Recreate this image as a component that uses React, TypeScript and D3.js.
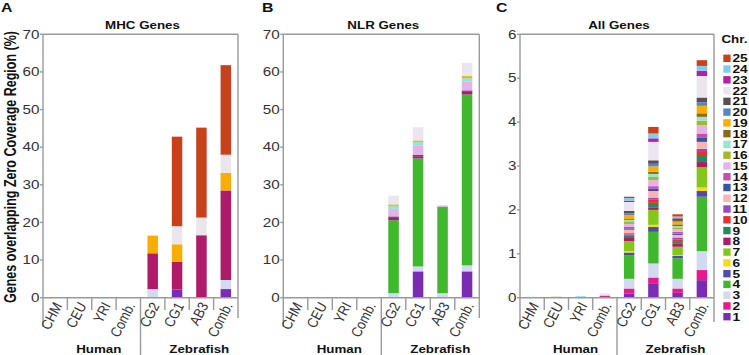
import React from 'react';
import * as d3 from 'd3';

// horizontal stretch of the whole figure
const S = 1.27;
const X = (screen: number) => screen / S;

const categories = ['CHM', 'CEU', 'YRI', 'Comb.', 'CG2', 'CG1', 'AB3', 'Comb.'];
const groupNames = ['Human', 'Zebrafish'];
const groupRanges: [number, number][] = [[0, 4], [4, 8]];
const chrLabels = ['1','2','3','4','5','6','7','8','9','10','11','12','13','14','15','16','17','18','19','20','21','22','23','24','25'];
const chrColors = [
  '#7a2db3', '#e8198b', '#d2daf2', '#3fb82e', '#5249b0', '#f9da1c', '#83c71b', '#b11a68',
  '#278a5b', '#e6312e', '#9a48c2', '#f9b3b3', '#33569e', '#c54fb0', '#e6b3e8', '#a4b828',
  '#94e6cf', '#8c6a1a', '#f7ae00', '#5b84c4', '#574e57', '#ebe6ed', '#b51fa3', '#7fcdee', '#c9411b',
];

// cumulative stack tops per category: [chromosome, top]
const mhcTops: [number, number][][] = [
  [], [], [], [],
  [[3, 2.3], [8, 11.8], [19, 16.5]],
  [[1, 2.2], [8, 9.5], [19, 14.2], [22, 19.0], [25, 42.8]],
  [[8, 16.6], [22, 21.3], [25, 45.2]],
  [[1, 2.3], [3, 4.7], [8, 28.5], [19, 33.2], [22, 38.0], [25, 61.8]],
];
const nlrTops: [number, number][][] = [
  [], [], [], [],
  [[3, 1.2], [4, 20.6], [8, 21.2], [13, 21.6], [15, 23.6], [17, 24.4], [19, 24.8], [22, 27.1]],
  [[1, 7.0], [3, 8.3], [4, 37.0], [8, 37.6], [13, 38.0], [15, 40.4], [17, 41.4], [19, 41.8], [22, 45.3]],
  [[3, 1.2], [4, 24.1], [15, 24.5]],
  [[1, 7.0], [3, 8.6], [4, 54.0], [8, 54.7], [13, 55.1], [15, 57.5], [17, 58.4], [19, 58.9], [22, 62.4]],
];
const allTops: [number, number][][] = [
  [[17, 0.02]],
  [[18, 0.02]],
  [[24, 0.03]],
  [[1, 0.01], [2, 0.02], [8, 0.04], [15, 0.06], [22, 0.1]],
  [[1, 0.10], [2, 0.21], [3, 0.43], [4, 0.97], [5, 1.03], [6, 1.06], [7, 1.29], [8, 1.36], [9, 1.41], [10, 1.44], [11, 1.47], [12, 1.55], [13, 1.58], [14, 1.61], [15, 1.68], [16, 1.74], [17, 1.77], [18, 1.79], [19, 1.88], [20, 1.92], [21, 1.98], [22, 2.18], [23, 2.21], [24, 2.27], [25, 2.30]],
  [[1, 0.33], [2, 0.46], [3, 0.78], [4, 1.50], [5, 1.61], [6, 1.66], [7, 2.00], [8, 2.06], [9, 2.16], [10, 2.23], [11, 2.28], [12, 2.43], [13, 2.48], [14, 2.54], [15, 2.68], [16, 2.75], [17, 2.82], [18, 2.87], [19, 2.99], [20, 3.05], [21, 3.13], [22, 3.55], [23, 3.63], [24, 3.74], [25, 3.89]],
  [[1, 0.11], [2, 0.21], [3, 0.43], [4, 0.90], [5, 0.95], [6, 0.97], [7, 1.16], [8, 1.24], [9, 1.29], [10, 1.33], [11, 1.37], [12, 1.43], [13, 1.46], [14, 1.50], [15, 1.56], [16, 1.60], [17, 1.63], [18, 1.67], [19, 1.73], [20, 1.75], [21, 1.81], [22, 1.83], [23, 1.84], [24, 1.85], [25, 1.90]],
  [[1, 0.40], [2, 0.63], [3, 1.06], [4, 2.30], [5, 2.43], [6, 2.51], [7, 2.97], [8, 3.09], [9, 3.25], [10, 3.34], [11, 3.39], [12, 3.55], [13, 3.64], [14, 3.74], [15, 3.93], [16, 4.03], [17, 4.12], [18, 4.20], [19, 4.37], [20, 4.45], [21, 4.56], [22, 5.05], [23, 5.17], [24, 5.28], [25, 5.41]],
];
const pctTicks = [0, 10, 20, 30, 40, 50, 60, 70];
const allTicks = [0, 1, 2, 3, 4, 5, 6];

const panels = [
  { letter: 'A', title: 'MHC Genes', tops: mhcTops, ticks: pctTicks, max: 70, x0: 43, x1: 238, lx: 1, rightEnd: 318 },
  { letter: 'B', title: 'NLR Genes', tops: nlrTops, ticks: pctTicks, max: 70, x0: 283.3, x1: 479.3, lx: 262, rightEnd: 318 },
  { letter: 'C', title: 'All Genes', tops: allTops, ticks: allTicks, max: 6, x0: 520, x1: 714, lx: 496, rightEnd: 322 },
];

const Y0 = 297.7;
const YT = 34.3;
const FRAME = '#9a9a9a';
const FONT = "'Liberation Sans', Arial, Helvetica, sans-serif";

function Panel({ p }: { p: typeof panels[number] }) {
  const x = d3.scaleBand<number>().domain(d3.range(categories.length)).range([X(p.x0), X(p.x1)]);
  const y = d3.scaleLinear().domain([0, p.max]).range([Y0, YT]);
  const rows = categories.map((_, i) => {
    const r: Record<string, number> = {};
    chrLabels.forEach((k) => (r[k] = 0));
    let prev = 0;
    p.tops[i].forEach(([c, t]) => {
      r[String(c)] = t - prev;
      prev = t;
    });
    return r;
  });
  const series = d3.stack<Record<string, number>>().keys(chrLabels)(rows);
  const bw = x.bandwidth() * 0.43;
  const left = X(p.x0);
  const right = X(p.x1);
  const line = { stroke: FRAME, strokeWidth: 1.4, vectorEffect: 'non-scaling-stroke' as const };
  return (
    <g>
      <text x={X(p.lx)} y={12} fontSize={12.5} fontWeight="bold" fill="#111">{p.letter}</text>
      <text x={(left + right) / 2 + X(2)} y={29.5} fontSize={10.5} fontWeight="bold" textAnchor="middle" fill="#111">{p.title}</text>
      {series.map((s, si) => (
        <g key={si} fill={chrColors[si]}>
          {s.map((d, i) =>
            d[1] - d[0] > 0 ? (
              <rect key={i} x={(x(i) as number) + (x.bandwidth() - bw) / 2} width={bw} y={y(d[1])} height={y(d[0]) - y(d[1])} />
            ) : null
          )}
        </g>
      ))}
      {/* frame */}
      <line x1={left} x2={right} y1={YT} y2={YT} {...line} />
      <line x1={left} x2={left} y1={YT} y2={327} {...line} />
      <line x1={right} x2={right} y1={YT} y2={p.rightEnd} {...line} />
      <line x1={left} x2={right} y1={Y0} y2={Y0} {...line} />
      {d3.range(1, categories.length).map((i) => (
        <line key={i} x1={x(i) as number} x2={x(i) as number} y1={Y0} y2={i === 4 ? 355 : 310} {...line} />
      ))}
      {/* y ticks */}
      {p.ticks.map((t) => (
        <g key={t}>
          <line x1={left - X(3)} x2={left} y1={y(t)} y2={y(t)} {...line} />
          <text x={left - X(3.5)} y={y(t) + 4.3} fontSize={12} textAnchor="end" fill="#333">{t}</text>
        </g>
      ))}
      {/* category labels */}
      {categories.map((c, i) => (
        <text key={i} transform={`translate(${(x(i) as number) + x.bandwidth() / 2 + X(7.5)},305) rotate(-68)`} fontSize={12} fontStyle="italic" textAnchor="end" fill="#333">{c}</text>
      ))}
      {groupNames.map((g, gi) => {
        const [a, b] = groupRanges[gi];
        const cx = ((x(a) as number) + (x(b - 1) as number) + x.bandwidth()) / 2 + X(gi === 0 ? 7 : 10);
        return <text key={g} x={cx} y={353.5} fontSize={10.5} fontWeight="bold" textAnchor="middle" fill="#111">{g}</text>;
      })}
    </g>
  );
}

function Legend() {
  const ly = d3.scaleLinear().domain([25, 1]).range([58.3, 316.7]);
  return (
    <g>
      <text x={X(721.5)} y={43} fontSize={10.5} fontWeight="bold" fill="#111">Chr.</text>
      {chrLabels.map((c, i) => (
        <g key={c}>
          <rect x={X(723.3)} y={ly(i + 1) - 3.7} width={X(7.3)} height={7.4} fill={chrColors[i]} />
          <text x={X(732.5)} y={ly(i + 1) + 4} fontSize={10.8} fontWeight="bold" fill="#111">{c}</text>
        </g>
      ))}
    </g>
  );
}

export default function App() {
  return (
    <svg width={749} height={355} style={{ position: 'absolute', left: 0, top: 0, background: '#fff' }} fontFamily={FONT}>
      <g transform={`scale(${S},1)`}>
        {panels.map((p) => (
          <Panel key={p.letter} p={p} />
        ))}
        <Legend />
        <text transform={`translate(${X(15.5)},167) rotate(-90)`} fontSize={12.5} fontWeight="bold" textAnchor="middle" fill="#111">
          Genes overlapping Zero Coverage Region (%)
        </text>
      </g>
    </svg>
  );
}
